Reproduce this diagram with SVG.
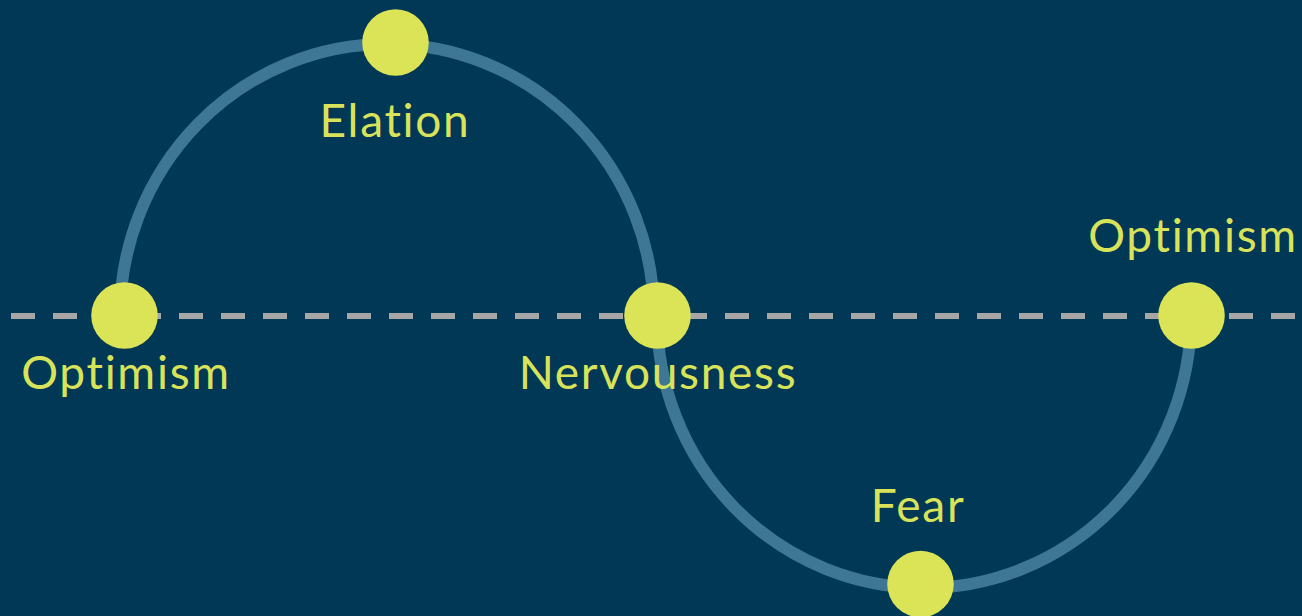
<svg xmlns="http://www.w3.org/2000/svg" width="1302" height="616" viewBox="0 0 1302 616">
<style>
.lbl{font-family:Lato,"Noto Sans","DejaVu Sans",sans-serif;font-size:46px;letter-spacing:1.7px;font-variant-ligatures:none;fill:#d9e35a;text-anchor:middle}
.dot{fill:#dbe356}
.arc{fill:none;stroke:#3e7796;stroke-width:12}
.axis{stroke:#a6a6a6;stroke-width:6;stroke-dasharray:24 18}
</style>
<rect width="1302" height="616" fill="#003856"/>
<g id="connectors">
<line class="axis" x1="11" y1="316" x2="1302" y2="316"/>
<path class="arc" d="M120,316 A267,272 0 0 1 654,316"/>
<path class="arc" d="M657,316 A267,272 0 0 0 1191,316"/>
</g>
<g id="optimism-start"><circle class="dot" cx="124.5" cy="315.5" r="33.3"/><text class="lbl" x="126" y="389">Optimism</text></g>
<g id="elation"><circle class="dot" cx="395.5" cy="42.5" r="33.3"/><text class="lbl" x="395" y="137">Elation</text></g>
<g id="nervousness"><circle class="dot" cx="657.5" cy="315.5" r="33.3"/><text class="lbl" x="658" y="389">Nervousness</text></g>
<g id="fear"><circle class="dot" cx="920.5" cy="584" r="33.3"/><text class="lbl" x="918" y="522">Fear</text></g>
<g id="optimism-end"><circle class="dot" cx="1191.5" cy="315.5" r="33.3"/><text class="lbl" x="1193" y="252">Optimism</text></g>
</svg>
